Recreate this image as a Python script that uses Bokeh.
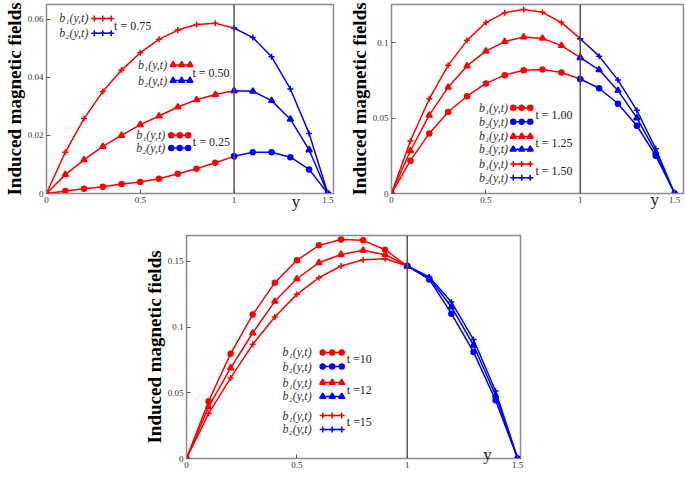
from bokeh.plotting import figure
from bokeh.layouts import column, row
from bokeh.models import (Span, Label, FixedTicker, CustomJSTickFormatter, Spacer,
                          LinearAxis)
from bokeh.embed import file_html
from bokeh.resources import INLINE

# ---------------- data ----------------
Y_RED = [0.0, 0.1, 0.2, 0.3, 0.4, 0.5, 0.6, 0.7, 0.8, 0.9, 1.0]
Y_BLUE = [1.0, 1.1, 1.2, 1.3, 1.4, 1.5]
X_TICKS = [0, 0.5, 1, 1.5]

# panel 1
b1_t075 = [0, 0.0142, 0.0258, 0.0351, 0.0425, 0.0485, 0.0531, 0.0563, 0.0582, 0.0586, 0.0570]
b2_t075 = [0.0570, 0.0537, 0.0471, 0.0360, 0.0207, 0]
b1_t050 = [0, 0.0065, 0.0116, 0.0162, 0.0200, 0.0237, 0.0267, 0.0298, 0.0323, 0.0341, 0.0354]
b2_t050 = [0.0354, 0.0352, 0.0320, 0.0256, 0.0150, 0]
b1_t025 = [0, 0.0009, 0.0016, 0.0023, 0.0033, 0.0040, 0.0051, 0.0068, 0.0085, 0.0106, 0.0128]
b2_t025 = [0.0128, 0.0142, 0.0142, 0.0125, 0.0083, 0]
Y_TICKS_1 = [0, 0.02, 0.04, 0.06]

# panel 2
b1_t100 = [0, 0.0218, 0.0399, 0.0541, 0.0646, 0.0731, 0.0786, 0.0819, 0.0823, 0.0803, 0.0760]
b2_t100 = [0.0760, 0.0699, 0.0596, 0.0450, 0.0251, 0]
b1_t125 = [0, 0.0284, 0.0520, 0.0705, 0.0847, 0.0945, 0.1009, 0.1039, 0.1030, 0.0982, 0.0902]
b2_t125 = [0.0902, 0.0821, 0.0683, 0.0502, 0.0275, 0]
b1_t150 = [0, 0.0349, 0.0629, 0.0851, 0.1017, 0.1135, 0.1201, 0.1222, 0.1203, 0.1135, 0.1028]
b2_t150 = [0.1028, 0.0912, 0.0753, 0.0552, 0.0297, 0]
Y_TICKS_2 = [0, 0.05, 0.1]

# panel 3
b1_t10 = [0, 0.0436, 0.0798, 0.1095, 0.1338, 0.1508, 0.1622, 0.1667, 0.1660, 0.1589, 0.1465]
b2_t10 = [0.1465, 0.1363, 0.1102, 0.0811, 0.0443, 0]
b1_t12 = [0, 0.0393, 0.0689, 0.0955, 0.1196, 0.1368, 0.1490, 0.1553, 0.1584, 0.1551, 0.1465]
b2_t12 = [0.1465, 0.1373, 0.1153, 0.0862, 0.0481, 0]
b1_t15 = [0, 0.0342, 0.0613, 0.0869, 0.1077, 0.1249, 0.1376, 0.1465, 0.1513, 0.1520, 0.1465]
b2_t15 = [0.1465, 0.1381, 0.1191, 0.0905, 0.0514, 0]
Y_TICKS_3 = [0, 0.05, 0.1, 0.15]

T_LABELS_1 = ["t = 0.75", "t = 0.50", "t = 0.25"]
T_LABELS_2 = ["t = 1.00", "t = 1.25", "t = 1.50"]
T_LABELS_3 = ["t =10", "t =12", "t =15"]

RED = "#ff0000"
BLUE = "#0000ff"
SERIF = "Liberation Serif"
MSIZE = {"circle": 5, "triangle": 6, "cross": 6}


def make_panel(width, height, borders, x_end, y_end, y_ticks):
    l, r, t, b = borders
    p = figure(width=width, height=height, x_range=(0, x_end), y_range=(0, y_end),
               output_backend="svg", toolbar_location=None,
               min_border_left=l, min_border_right=r, min_border_top=t, min_border_bottom=b)
    p.xgrid.visible = False
    p.ygrid.visible = False
    p.outline_line_color = "#8a8a8a"
    p.outline_line_width = 1.5
    p.xaxis.ticker = FixedTicker(ticks=X_TICKS)
    p.yaxis.ticker = FixedTicker(ticks=y_ticks)
    fmt = "return String(tick);"
    p.xaxis.formatter = CustomJSTickFormatter(code=fmt)
    p.yaxis.formatter = CustomJSTickFormatter(code=fmt)
    p.axis.axis_line_color = "#8a8a8a"
    p.axis.major_tick_line_color = "#555555"
    p.axis.major_tick_in = 4
    p.axis.major_tick_out = 0
    p.axis.minor_tick_line_color = None
    p.axis.major_label_text_font = SERIF
    p.axis.major_label_text_font_size = "9px"
    p.axis.major_label_text_color = "#333333"
    p.axis.major_label_standoff = 3
    p.yaxis.axis_label = "Induced magnetic fields"
    p.yaxis.axis_label_text_font = SERIF
    p.yaxis.axis_label_text_font_style = "bold"
    p.yaxis.axis_label_text_font_size = "19px"
    p.yaxis.axis_label_text_color = "#000000"
    p.yaxis.axis_label_standoff = 0
    p.add_layout(Span(location=1, dimension="height", line_color="#555555", line_width=1.5))
    return p


def add_series(p, b1, b2, marker):
    for xs, ys, col in ((Y_RED, b1, RED), (Y_BLUE, b2, BLUE)):
        p.line(xs, ys, color=col, line_width=1.5)
        p.scatter(xs, ys, marker=marker, size=MSIZE[marker], color=col, line_width=1.5)


def add_legend(p, bx, gx0, gx1, tx, y1, y2, marker, tlabel):
    for yy, col, name in ((y1, RED, "b\u2081(y,t)"), (y2, BLUE, "b\u2082(y,t)")):
        p.add_layout(Label(x=bx, y=yy, text=name, text_font=SERIF, text_font_style="italic",
                           text_font_size="12px", text_baseline="middle", text_color="#333333"))
        p.line([gx0, gx1], [yy, yy], color=col, line_width=1.5)
        p.scatter([gx0, (gx0 + gx1) / 2, gx1], [yy, yy, yy], marker=marker,
                  size=MSIZE[marker], color=col, line_width=1.5)
    p.add_layout(Label(x=tx, y=(y1 + y2) / 2, text=tlabel, text_font=SERIF,
                       text_font_size="12px", text_baseline="middle", text_color="#222222"))


def add_ylab(p, x, standoff):
    # "y" variable name drawn as a second, line-less bottom axis with a single tick label
    p.add_layout(LinearAxis(ticker=FixedTicker(ticks=[x]),
                            formatter=CustomJSTickFormatter(code="return 'y';"),
                            axis_line_color=None, major_tick_line_color=None,
                            minor_tick_line_color=None, major_label_standoff=standoff,
                            major_label_text_font=SERIF, major_label_text_font_size="17px",
                            major_label_text_color="#222222"), "below")


# ---------------- panel 1 ----------------
p1 = make_panel(345, 222, (41, 12, 2, 29), 1.53, 0.0651, Y_TICKS_1)
add_series(p1, b1_t075, b2_t075, "cross")
add_series(p1, b1_t050, b2_t050, "triangle")
add_series(p1, b1_t025, b2_t025, "circle")
add_legend(p1, 0.068, 0.255, 0.345, 0.36, 0.0603, 0.0552, "cross", T_LABELS_1[0])
add_legend(p1, 0.488, 0.675, 0.765, 0.778, 0.0443, 0.0389, "triangle", T_LABELS_1[1])
add_legend(p1, 0.478, 0.665, 0.755, 0.78, 0.0201, 0.0157, "circle", T_LABELS_1[2])
add_ylab(p1, 1.33, -20)

# ---------------- panel 2 ----------------
p2 = make_panel(340, 222, (44, 2, 4, 26), 1.547, 0.1255, Y_TICKS_2)
add_series(p2, b1_t100, b2_t100, "circle")
add_series(p2, b1_t125, b2_t125, "triangle")
add_series(p2, b1_t150, b2_t150, "cross")
add_legend(p2, 0.463, 0.645, 0.735, 0.763, 0.0569, 0.0477, "circle", T_LABELS_2[0])
add_legend(p2, 0.463, 0.645, 0.735, 0.763, 0.0379, 0.0294, "triangle", T_LABELS_2[1])
add_legend(p2, 0.463, 0.645, 0.735, 0.763, 0.0196, 0.0105, "cross", T_LABELS_2[2])
add_ylab(p2, 1.395, -22)

# ---------------- panel 3 ----------------
p3 = make_panel(390, 255, (43, 10, 13, 19), 1.513, 0.1697, Y_TICKS_3)
add_series(p3, b1_t10, b2_t10, "circle")
add_series(p3, b1_t12, b2_t12, "triangle")
add_series(p3, b1_t15, b2_t15, "cross")
add_legend(p3, 0.435, 0.617, 0.703, 0.726, 0.0807, 0.0700, "circle", T_LABELS_3[0])
add_legend(p3, 0.435, 0.617, 0.703, 0.726, 0.0578, 0.0472, "triangle", T_LABELS_3[1])
add_legend(p3, 0.435, 0.617, 0.703, 0.726, 0.0327, 0.0221, "cross", T_LABELS_3[2])
add_ylab(p3, 1.363, -32)

layout = column(row(p1, p2), row(Spacer(width=140, height=255), p3))

open("out.html", "w").write(file_html(layout, INLINE))
